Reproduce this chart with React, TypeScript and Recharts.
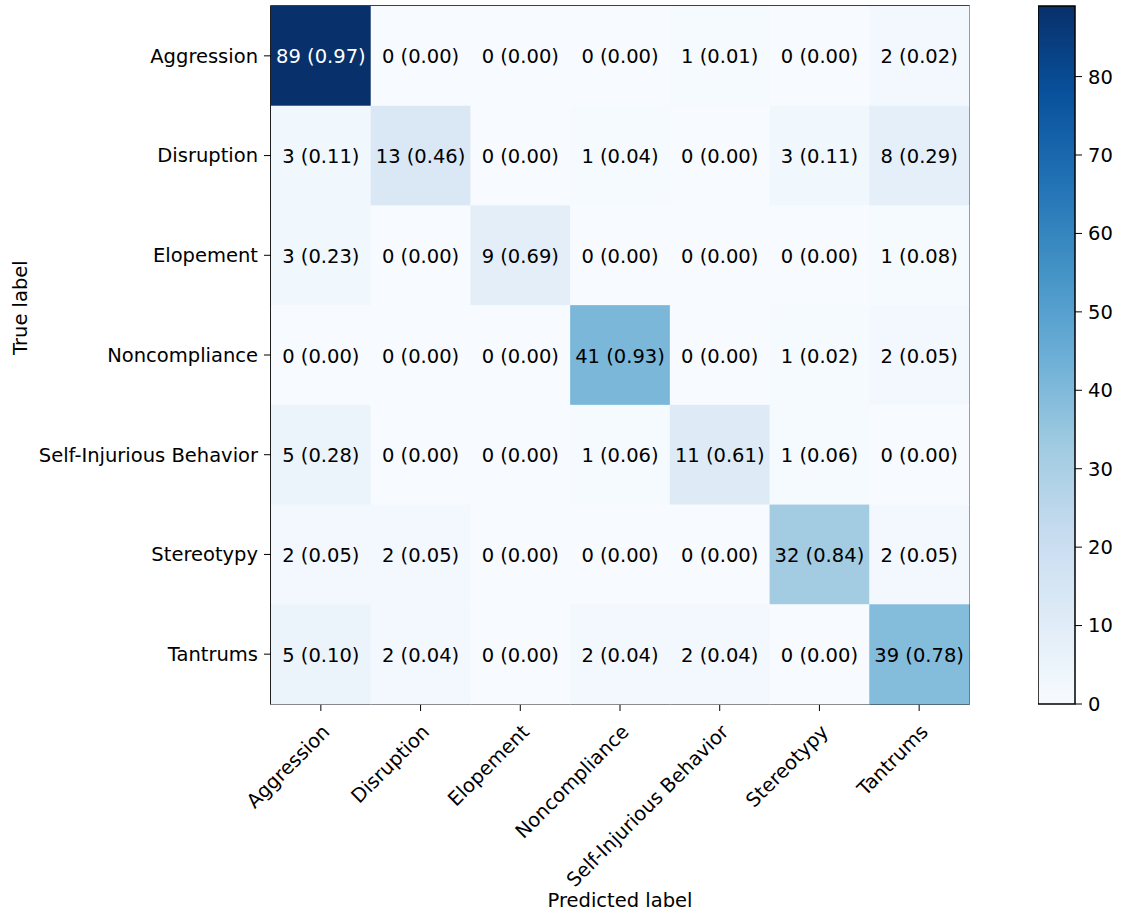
import React from 'react';
import {
  ScatterChart,
  Scatter,
  XAxis,
  YAxis,
  ReferenceArea,
  BarChart,
  Bar,
} from 'recharts';

const labels = [
  'Aggression',
  'Disruption',
  'Elopement',
  'Noncompliance',
  'Self-Injurious Behavior',
  'Stereotypy',
  'Tantrums',
];

// rows = true label, columns = predicted label
const aggression = [89, 0, 0, 0, 1, 0, 2];
const disruption = [3, 13, 0, 1, 0, 3, 8];
const elopement = [3, 0, 9, 0, 0, 0, 1];
const noncompliance = [0, 0, 0, 41, 0, 1, 2];
const selfInjurious = [5, 0, 0, 1, 11, 1, 0];
const stereotypy = [2, 2, 0, 0, 0, 32, 2];
const tantrums = [5, 2, 0, 2, 2, 0, 39];

const rows = [aggression, disruption, elopement, noncompliance, selfInjurious, stereotypy, tantrums];
const colorbarTicks = [0, 10, 20, 30, 40, 50, 60, 70, 80];

const FONT = '"DejaVu Sans", sans-serif';
const FS = 19.5;
const W = 980;
const H = 913;
const M = { top: 6, right: 11, left: 0, bottom: 0 };
const Y_AXIS_W = 271;
const X_AXIS_H = 209;
const CELL = (W - M.left - M.right - Y_AXIS_W) / labels.length;

// matplotlib "Blues"
const BLUES = ['#f7fbff', '#deebf7', '#c6dbef', '#9ecae1', '#6baed6', '#4292c6', '#2171b5', '#08519c', '#08306b'];

const hex = (h: string) => [1, 3, 5].map((i) => parseInt(h.slice(i, i + 2), 16));

function blues(t: number) {
  const v = Math.max(0, Math.min(1, t)) * (BLUES.length - 1);
  const i = Math.min(Math.floor(v), BLUES.length - 2);
  const f = v - i;
  const a = hex(BLUES[i]);
  const b = hex(BLUES[i + 1]);
  const c = a.map((x, k) => Math.round(x + (b[k] - x) * f));
  return `rgb(${c[0]},${c[1]},${c[2]})`;
}

const maxCount = Math.max(...rows.flat());

const cells = rows.flatMap((row, i) => {
  const total = row.reduce((s, v) => s + v, 0);
  return row.map((count, j) => ({ x: j, y: i, count, frac: count / total }));
});

const CellShape = (props: any) => {
  const { cx, cy, payload } = props;
  const white = payload.count > maxCount / 2;
  return (
    <g>
      <rect
        x={cx - CELL / 2}
        y={cy - CELL / 2}
        width={CELL + 0.5}
        height={CELL + 0.5}
        fill={blues(payload.count / maxCount)}
      />
      <text
        x={cx}
        y={cy + 1}
        textAnchor="middle"
        dominantBaseline="central"
        fontFamily={FONT}
        fontSize={FS}
        fill={white ? '#fff' : '#000'}
      >
        {`${payload.count} (${payload.frac.toFixed(2)})`}
      </text>
    </g>
  );
};

const XTick = (props: any) => {
  const { x, y, payload } = props;
  return (
    <g transform={`translate(${x + 10},${y + 16})`}>
      <text transform="rotate(-45)" textAnchor="end" fontFamily={FONT} fontSize={FS} fill="#000">
        {labels[payload.value]}
      </text>
    </g>
  );
};

export default function App() {
  return (
    <div style={{ position: 'absolute', left: 0, top: 0, width: 1147, height: 913, background: '#fff' }}>
      <div style={{ position: 'absolute', left: 0, top: 0 }}>
        <ScatterChart width={W} height={H} margin={M}>
          <XAxis
            type="number"
            dataKey="x"
            domain={[-0.5, 6.5]}
            ticks={[0, 1, 2, 3, 4, 5, 6]}
            interval={0}
            height={X_AXIS_H}
            tickSize={7}
            tickMargin={6}
            stroke="#000"
            tick={<XTick />}
            label={{
              value: 'Predicted label',
              position: 'insideBottom',
              offset: 6,
              fill: '#000',
              fontSize: FS,
              fontFamily: FONT,
            }}
          />
          <YAxis
            type="number"
            dataKey="y"
            reversed
            domain={[-0.5, 6.5]}
            ticks={[0, 1, 2, 3, 4, 5, 6]}
            interval={0}
            width={Y_AXIS_W}
            tickSize={7}
            tickMargin={6}
            stroke="#000"
            tick={{ fill: '#000', fontSize: FS, fontFamily: FONT }}
            tickFormatter={(v: number) => labels[v]}
            label={{
              value: 'True label',
              angle: -90,
              position: 'insideLeft',
              offset: 20,
              fill: '#000',
              fontSize: FS,
              fontFamily: FONT,
            }}
          />
          <Scatter data={cells} shape={<CellShape />} isAnimationActive={false} />
          <ReferenceArea
            x1={-0.5}
            x2={6.5}
            y1={-0.5}
            y2={6.5}
            fill="none"
            fillOpacity={0}
            stroke="#000"
            strokeWidth={1.5}
            ifOverflow="visible"
          />
        </ScatterChart>
      </div>
      <div style={{ position: 'absolute', left: 1038, top: 0 }}>
        <BarChart
          width={109}
          height={H}
          data={[{ name: 'scale', value: maxCount }]}
          margin={{ top: 6, right: 0, left: 0, bottom: 209 }}
          barCategoryGap={0}
        >
          <defs>
            <linearGradient id="bluesGrad" x1="0" y1="1" x2="0" y2="0">
              {BLUES.map((c, i) => (
                <stop key={c} offset={`${(i / (BLUES.length - 1)) * 100}%`} stopColor={c} />
              ))}
            </linearGradient>
          </defs>
          <XAxis dataKey="name" hide />
          <YAxis
            orientation="right"
            domain={[0, maxCount]}
            ticks={colorbarTicks}
            width={72}
            tickSize={7}
            tickMargin={6}
            axisLine={false}
            stroke="#000"
            tick={{ fill: '#000', fontSize: FS, fontFamily: FONT, textAnchor: 'start' }}
          />
          <Bar dataKey="value" fill="url(#bluesGrad)" stroke="#000" strokeWidth={1.5} isAnimationActive={false} />
        </BarChart>
      </div>
    </div>
  );
}
